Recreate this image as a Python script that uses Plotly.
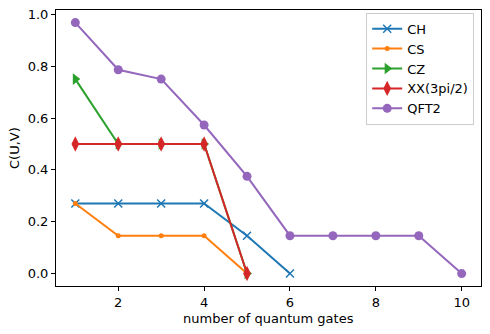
import plotly.graph_objects as go

x_ch = [1, 2, 3, 4, 5, 6]
y_ch = [0.27, 0.27, 0.27, 0.27, 0.146, 0.0]
x_cs = [1, 2, 3, 4, 5]
y_cs = [0.27, 0.146, 0.146, 0.146, 0.0]
x_cz = [1, 2, 3, 4, 5]
y_cz = [0.75, 0.5, 0.5, 0.5, 0.0]
x_xx = [1, 2, 3, 4, 5]
y_xx = [0.5, 0.5, 0.5, 0.5, 0.0]
x_qft = [1, 2, 3, 4, 5, 6, 7, 8, 9, 10]
y_qft = [0.968, 0.786, 0.75, 0.573, 0.375, 0.146, 0.146, 0.146, 0.146, 0.0]

fig = go.Figure()
fig.add_trace(go.Scatter(x=x_ch, y=y_ch, name="CH", mode="lines+markers",
                         line=dict(color="#1f77b4", width=2),
                         marker=dict(symbol="x-thin-open", size=8, line=dict(color="#1f77b4", width=1.5))))
fig.add_trace(go.Scatter(x=x_cs, y=y_cs, name="CS", mode="lines+markers",
                         line=dict(color="#ff7f0e", width=2),
                         marker=dict(symbol="circle", size=5, color="#ff7f0e")))
fig.add_trace(go.Scatter(x=x_cz, y=y_cz, name="CZ", mode="lines+markers",
                         line=dict(color="#2ca02c", width=2),
                         marker=dict(symbol="triangle-right", size=10, color="#2ca02c")))
fig.add_trace(go.Scatter(x=x_xx, y=y_xx, name="XX(3pi/2)", mode="lines+markers",
                         line=dict(color="#d62728", width=2),
                         marker=dict(symbol="diamond-tall", size=11, color="#d62728")))
fig.add_trace(go.Scatter(x=x_qft, y=y_qft, name="QFT2", mode="lines+markers",
                         line=dict(color="#9467bd", width=2),
                         marker=dict(symbol="circle", size=9, color="#9467bd")))

axis_common = dict(showline=True, linecolor="black", linewidth=1, mirror=True,
                   ticks="outside", ticklen=4, tickcolor="black", showgrid=False,
                   zeroline=False, automargin=False,
                   tickfont=dict(size=13, color="black"))

fig.update_layout(
    width=490, height=334,
    margin=dict(l=56, r=9, t=10, b=48),
    paper_bgcolor="white", plot_bgcolor="white",
    font=dict(family="DejaVu Sans", size=13, color="black"),
    xaxis=dict(range=[0.55, 10.45], tickvals=[2, 4, 6, 8, 10], **axis_common),
    yaxis=dict(range=[-0.048, 1.0166], tickvals=[0, 0.2, 0.4, 0.6, 0.8, 1.0],
               tickformat=".1f", **axis_common),
    legend=dict(x=0.984, y=0.99, xanchor="right", yanchor="top",
                bordercolor="#cccccc", borderwidth=1, bgcolor="rgba(255,255,255,0.8)",
                font=dict(size=13), tracegroupgap=0, itemwidth=30),
    showlegend=True,
    annotations=[
        dict(text="number of quantum gates", xref="paper", yref="paper",
             x=0.5, y=0, xanchor="center", yanchor="middle", yshift=-32,
             showarrow=False, font=dict(size=13)),
        dict(text="C(U,V)", xref="paper", yref="paper",
             x=0, y=0.5, xanchor="center", yanchor="middle", xshift=-42,
             textangle=-90, showarrow=False, font=dict(size=13)),
    ],
)

fig.write_html("out.html", config={"displayModeBar": False},
               post_script="document.body.style.margin='0';document.body.style.overflow='hidden';")
